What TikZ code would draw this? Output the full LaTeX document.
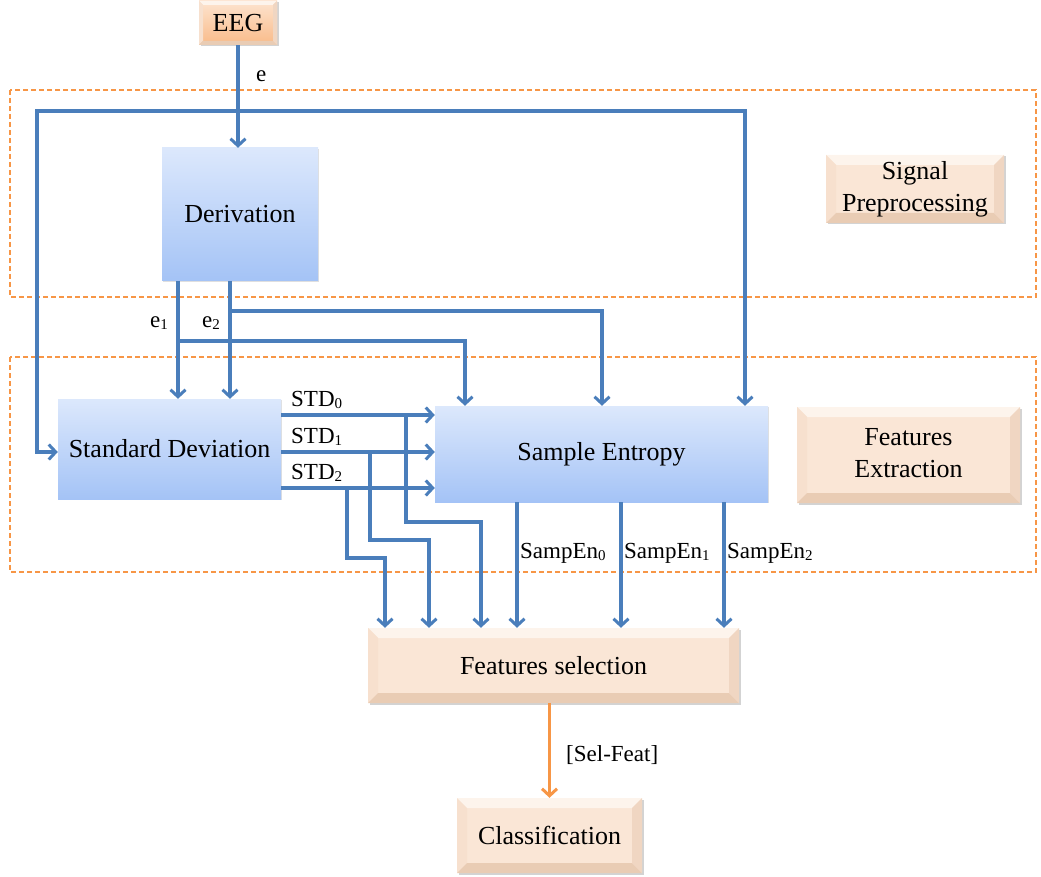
\documentclass[tikz,border=0pt]{standalone}
\usepackage{fontspec}
\setmainfont{Liberation Serif}
\usetikzlibrary{arrows.meta,shadows}
\definecolor{lblue}{HTML}{4A7EBB}
\definecolor{dorange}{HTML}{F79646}
\definecolor{btop}{HTML}{DCE8FC}
\definecolor{bbot}{HTML}{A4C3F6}
\definecolor{pface}{HTML}{FAE6D6}
\definecolor{ptop}{HTML}{FDF4EC}
\definecolor{pleft}{HTML}{F7E0CE}
\definecolor{pbot}{HTML}{E9CCB4}
\definecolor{pright}{HTML}{F0D6C2}
\definecolor{etop}{HTML}{FDE4CF}
\definecolor{ebot}{HTML}{F9BA88}
\newcommand\sbs[1]{\raisebox{-0.1em}{\fontsize{15}{15}\selectfont #1}}
\newcommand\twolines[3]{\raisebox{-#3}{\begin{tabular}{@{}c@{}}#1\\#2\end{tabular}}}
\tikzset{
  every node/.style={font=\fontsize{26}{30}\selectfont, inner sep=0pt},
  bluebox/.style={draw=none, top color=btop, bottom color=bbot, align=center,
    drop shadow={shadow xshift=1pt, shadow yshift=-1pt, opacity=0.25, fill=gray}},
  bevelfaces/.style={path picture={
    \fill[ptop] (path picture bounding box.north west) -- (path picture bounding box.north east)
       -- ([shift={(-#1,-#1)}]path picture bounding box.north east) -- ([shift={(#1,-#1)}]path picture bounding box.north west) -- cycle;
    \fill[pleft] (path picture bounding box.north west) -- (path picture bounding box.south west)
       -- ([shift={(#1,#1)}]path picture bounding box.south west) -- ([shift={(#1,-#1)}]path picture bounding box.north west) -- cycle;
    \fill[pbot] (path picture bounding box.south west) -- (path picture bounding box.south east)
       -- ([shift={(-#1,#1)}]path picture bounding box.south east) -- ([shift={(#1,#1)}]path picture bounding box.south west) -- cycle;
    \fill[pright] (path picture bounding box.north east) -- (path picture bounding box.south east)
       -- ([shift={(-#1,#1)}]path picture bounding box.south east) -- ([shift={(-#1,-#1)}]path picture bounding box.north east) -- cycle;
  }},
  peachbox/.style={draw=none, fill=pface, align=center, bevelfaces=10pt,
    drop shadow={shadow xshift=1.5pt, shadow yshift=-1.5pt, opacity=0.35, fill=gray}},
  eegbox/.style={draw=none, top color=etop, bottom color=ebot, align=center, bevelfaces=4pt,
    drop shadow={shadow xshift=1.5pt, shadow yshift=-1.5pt, opacity=0.35, fill=gray}},
  conn/.style={draw=lblue, line width=3.4pt},
  arr/.style={conn, -{Straight Barb[length=7pt,width=15pt,line width=3pt]}},
  oarr/.style={draw=dorange, line width=3.4pt, -{Straight Barb[length=7pt,width=15pt,line width=3pt]}},
  region/.style={draw=dorange, line width=1.6pt, dash pattern=on 5pt off 3pt},
  lbl/.style={font=\fontsize{23}{26}\selectfont},
}
\begin{document}
\begin{tikzpicture}[x=1pt,y=-1pt]
\useasboundingbox (0,0) rectangle (1041,877);
% regions
\draw[region] (10,90) rectangle (1036,297);
\draw[region] (10,357) rectangle (1036,572);
% nodes
\node[eegbox, minimum width=78pt, minimum height=44pt] (EEG) at (238,23) {EEG};
\node[bluebox, minimum width=156pt, minimum height=133pt] (Der) at (240,214.5) {Derivation};
\node[peachbox, minimum width=178pt, minimum height=68pt, font=\fontsize{26}{32}\selectfont] (SP) at (915,189) {\twolines{Signal}{Preprocessing}{4pt}};
\node[bluebox, minimum width=223pt, minimum height=100pt] (SD) at (169.5,449) {Standard Deviation};
\node[bluebox, minimum width=333pt, minimum height=96pt] (SE) at (601.5,454) {Sample Entropy};
\node[peachbox, minimum width=223pt, minimum height=96pt, font=\fontsize{26}{32}\selectfont] (FE) at (908.5,455) {\twolines{Features}{Extraction}{3pt}};
\node[peachbox, minimum width=371pt, minimum height=75pt] (FS) at (553.5,665.5) {Features selection};
\node[peachbox, minimum width=185pt, minimum height=75pt] (CL) at (549.5,835.5) {Classification};
% EEG to derivation
\coordinate (J0) at (238,111);
\coordinate (L) at (37,111);
\coordinate (R) at (745,111);
\draw[arr] (EEG.south) -- (EEG.south |- Der.north);
\node[lbl, anchor=west] (le) at (256,76) {e};
\draw[arr] (J0) -- (L) |- ([yshift=-3pt]SD.west);
\draw[arr] (J0) -- (R) -- (R |- SE.north);
% derivation outputs
\coordinate (d1) at (178,281);
\coordinate (d2) at (230,281);
\draw[arr] (d1) -- (d1 |- SD.north);
\draw[arr] (d2) -- (d2 |- SD.north);
\node[lbl, anchor=east] (le1) at (168,323) {e\sbs{1}};
\node[lbl, anchor=east] (le2) at (220,323) {e\sbs{2}};
\coordinate (b2) at (230,311);
\coordinate (c2) at (602,311);
\draw[arr] (b2) -- (c2) -- (c2 |- SE.north);
\coordinate (b1) at (178,341);
\coordinate (c1) at (465,341);
\draw[arr] (b1) -- (c1) -- (c1 |- SE.north);
% STD lines
\coordinate (s0) at (281,415);
\coordinate (s1) at (281,452);
\coordinate (s2) at (281,488);
\draw[arr] (s0) -- (s0 -| SE.west);
\draw[arr] (s1) -- (s1 -| SE.west);
\draw[arr] (s2) -- (s2 -| SE.west);
\node[lbl, anchor=south west] (l0) at (291,409) {STD\sbs{0}};
\node[lbl, anchor=south west] (l1) at (291,446) {STD\sbs{1}};
\node[lbl, anchor=south west] (l2) at (291,482) {STD\sbs{2}};
% STD branches to features selection
\coordinate (t0) at (406,415);
\coordinate (k0) at (481,522);
\draw[arr] (t0) |- (k0) -- (k0 |- FS.north);
\coordinate (t1) at (370,452);
\coordinate (k1) at (429,540);
\draw[arr] (t1) |- (k1) -- (k1 |- FS.north);
\coordinate (t2) at (347,488);
\coordinate (k2) at (385,558);
\draw[arr] (t2) |- (k2) -- (k2 |- FS.north);
% SampEn outputs
\coordinate (o0) at (517,502);
\coordinate (o1) at (621,502);
\coordinate (o2) at (724,502);
\draw[arr] (o0) -- (o0 |- FS.north);
\draw[arr] (o1) -- (o1 |- FS.north);
\draw[arr] (o2) -- (o2 |- FS.north);
\node[lbl, anchor=west] (m0) at (520,553) {SampEn\sbs{0}};
\node[lbl, anchor=west] (m1) at (624,553) {SampEn\sbs{1}};
\node[lbl, anchor=west] (m2) at (727,553) {SampEn\sbs{2}};
% selection to classification
\draw[oarr] (CL.north |- FS.south) -- (CL.north);
\node[lbl, anchor=west] (sf) at (566,755) {[Sel-Feat]};
\end{tikzpicture}
\end{document}
